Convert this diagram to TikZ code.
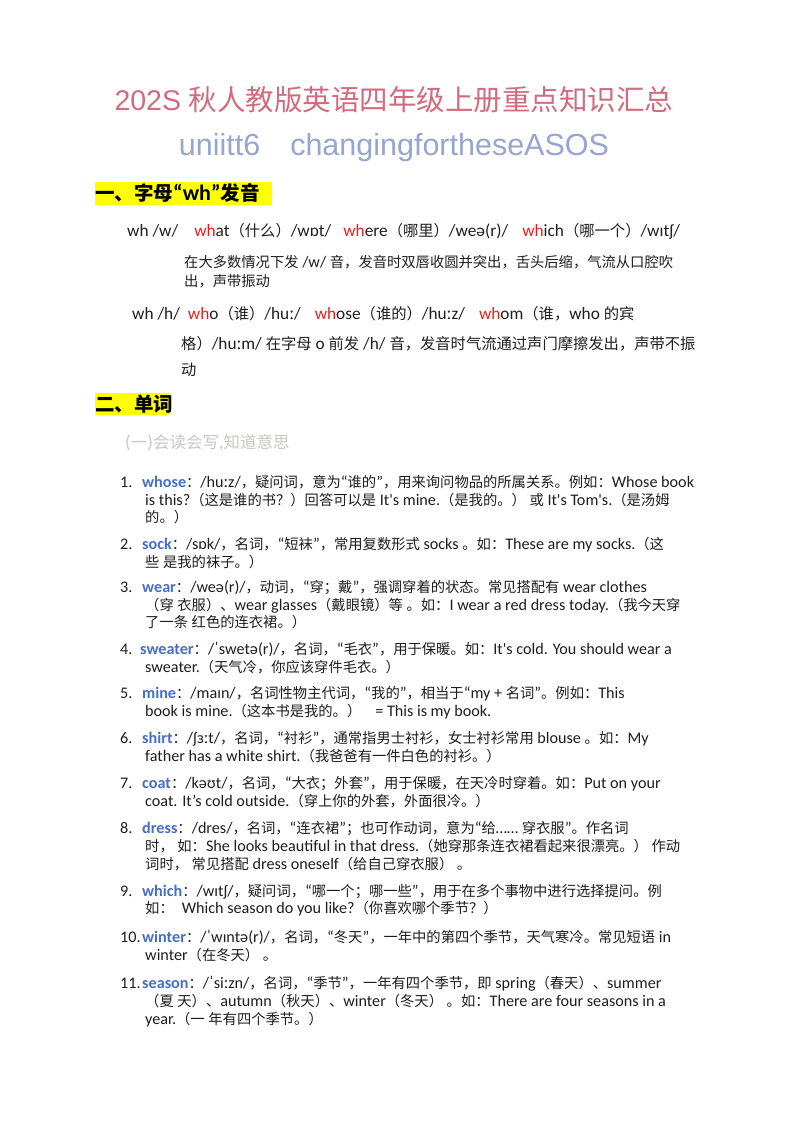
\documentclass[tikz,border=0pt]{standalone}
\usepackage{fontspec}
\setmainfont[Scale=1.13]{Carlito}
\newfontfamily\cjkf{Noto Sans CJK SC}
\newfontfamily\arialf{Liberation Sans}
\newfontfamily\latf[Scale=1.13]{Carlito}
\def\latinfont{\latf}
\XeTeXinterchartokenstate=1
\newXeTeXintercharclass\CJKcls
\count255="3000 \loop\XeTeXcharclass\count255=\CJKcls\advance\count255 by 1 \ifnum\count255<"3040 \repeat
\count255="4E00 \loop\XeTeXcharclass\count255=\CJKcls\advance\count255 by 1 \ifnum\count255<"A000 \repeat
\count255="FF00 \loop\XeTeXcharclass\count255=\CJKcls\advance\count255 by 1 \ifnum\count255<"FFF0 \repeat
\XeTeXinterchartoks 0 \CJKcls = {\cjkf}
\XeTeXinterchartoks 4095 \CJKcls = {\cjkf}
\XeTeXinterchartoks \CJKcls 0 = {\latinfont}
\XeTeXinterchartoks \CJKcls 4095 = {\latinfont}
\definecolor{titlec}{RGB}{212,106,125}
\definecolor{subc}{RGB}{150,166,208}
\definecolor{kw}{RGB}{70,110,200}
\definecolor{redw}{RGB}{235,30,30}
\definecolor{hl}{RGB}{255,255,0}
\definecolor{grayt}{RGB}{205,198,198}
\definecolor{txt}{RGB}{30,30,30}
\newcommand\R[1]{{\color{redw}#1}}
\newcommand\K[1]{{\color{kw}\bfseries #1}}
\tikzset{
 ln/.style={anchor=base west,inner sep=0,text=txt,font=\fontsize{14.3}{16}\selectfont},
 wl/.style={anchor=base west,inner sep=0,text=txt,font=\fontsize{15.3}{18}\selectfont},
 num/.style={anchor=base west,inner sep=0,text=txt,font=\fontsize{14.3}{16}\selectfont},
 head/.style={anchor=base west,inner sep=0,text=black,font=\fontsize{19.5}{20}\selectfont\bfseries},
}
\begin{document}
\begin{tikzpicture}[x=1pt,y=-1pt]
\useasboundingbox (0,0) rectangle (800,1132);
\fill[white] (0,0) rectangle (800,1132);
\node[inner sep=0,text=titlec,font=\fontsize{28.5}{30}\selectfont\def\latinfont{\arialf}\arialf] (title) at (394,100) {202S 秋人教版英语四年级上册重点知识汇总};
\node[inner sep=0,text=subc,font=\fontsize{30.5}{32}\selectfont\arialf] (sub) at (394,148) {uniitt6\hspace{30pt}changingfortheseASOS};
\fill[hl] (95,182) rectangle (272,205);
\node[head] (h1) at (95,200) {一、字母“wh”发音};
\node[wl] (w1) at (127,236) {wh /w/\hspace{16pt}\R{wh}at（什么）/wɒt/\hspace{12pt}\R{wh}ere（哪里）/weə(r)/\hspace{14pt}\R{wh}ich（哪一个）/wɪtʃ/};
\node[ln] (p1a) at (184,267) {在大多数情况下发 /w/ 音，发音时双唇收圆并突出，舌头后缩，气流从口腔吹};
\node[ln] (p1b) at (184,286) {出，声带振动};
\node[wl] (w2) at (132,319) {wh /h/\hspace{8pt}\R{wh}o（谁）/huː/\hspace{14pt}\R{wh}ose（谁的）/huːz/\hspace{14pt}\R{wh}om（谁，who 的宾};
\node[wl] (p2a) at (181,349) {格）/huːm/ 在字母 o 前发 /h/ 音，发音时气流通过声门摩擦发出，声带不振};
\node[wl] (p2b) at (181,375) {动};
\fill[hl] (95,393) rectangle (170,415);
\node[head] (h2) at (95,411) {二、单词};
\node[anchor=base west,inner sep=0,text=grayt,font=\fontsize{16.5}{18}\selectfont] (sub2) at (125,448) {(一)会读会写,知道意思};
% items
\node[num] (n1) at (120,487) {1.};
\node[ln] (i1a) at (142,487) {\K{whose}：/huːz/，疑问词，意为“谁的”，用来询问物品的所属关系。例如：Whose book};
\node[ln] (i1b) at (145,505) {is this?（这是谁的书？）回答可以是 It's mine.（是我的。） 或 It's Tom's.（是汤姆};
\node[ln] (i1c) at (145,522) {的。）};
\node[num] (n2) at (120,549) {2.};
\node[ln] (i2a) at (142,549) {\K{sock}：/sɒk/，名词，“短袜”，常用复数形式 socks 。如：These are my socks.（这};
\node[ln] (i2b) at (145,567) {些 是我的袜子。）};
\node[num] (n3) at (120,592) {3.};
\node[ln] (i3a) at (142,592) {\K{wear}：/weə(r)/，动词，“穿；戴”，强调穿着的状态。常见搭配有 wear clothes};
\node[ln] (i3b) at (145,610) {（穿 衣服）、wear glasses（戴眼镜）等 。如：I wear a red dress today.（我今天穿};
\node[ln] (i3c) at (145,627) {了一条 红色的连衣裙。）};
\node[num] (n4) at (120,654) {4.};
\node[ln] (i4a) at (140,654) {\K{sweater}：/ˈswetə(r)/，名词，“毛衣”，用于保暖。如：It's cold. You should wear a};
\node[ln] (i4b) at (145,672) {sweater.（天气冷，你应该穿件毛衣。）};
\node[num] (n5) at (120,698) {5.};
\node[ln] (i5a) at (142,698) {\K{mine}：/maɪn/，名词性物主代词，“我的”，相当于“my + 名词”。例如：This};
\node[ln] (i5b) at (145,716) {book is mine.（这本书是我的。）\hspace{14pt}= This is my book.};
\node[num] (n6) at (120,743) {6.};
\node[ln] (i6a) at (142,743) {\K{shirt}：/ʃɜːt/，名词，“衬衫”，通常指男士衬衫，女士衬衫常用 blouse 。如：My};
\node[ln] (i6b) at (145,761) {father has a white shirt.（我爸爸有一件白色的衬衫。）};
\node[num] (n7) at (120,788) {7.};
\node[ln] (i7a) at (142,788) {\K{coat}：/kəʊt/，名词，“大衣；外套”，用于保暖，在天冷时穿着。如：Put on your};
\node[ln] (i7b) at (145,806) {coat. It's cold outside.（穿上你的外套，外面很冷。）};
\node[num] (n8) at (120,833) {8.};
\node[ln] (i8a) at (142,833) {\K{dress}：/dres/，名词，“连衣裙”；也可作动词，意为“给…… 穿衣服”。作名词};
\node[ln] (i8b) at (145,851) {时， 如：She looks beautiful in that dress.（她穿那条连衣裙看起来很漂亮。） 作动};
\node[ln] (i8c) at (145,869) {词时， 常见搭配 dress oneself（给自己穿衣服） 。};
\node[num] (n9) at (120,896) {9.};
\node[ln] (i9a) at (142,896) {\K{which}：/wɪtʃ/，疑问词，“哪一个；哪一些”，用于在多个事物中进行选择提问。例};
\node[ln] (i9b) at (145,913) {如：\hspace{8pt}Which season do you like?（你喜欢哪个季节？）};
\node[num] (n10) at (120,942) {10.};
\node[ln] (i10a) at (142,942) {\K{winter}：/ˈwɪntə(r)/，名词，“冬天”，一年中的第四个季节，天气寒冷。常见短语 in};
\node[ln] (i10b) at (145,960) {winter（在冬天） 。};
\node[num] (n11) at (120,988) {11.};
\node[ln] (i11a) at (142,988) {\K{season}：/ˈsiːzn/，名词，“季节”，一年有四个季节，即 spring（春天）、summer};
\node[ln] (i11b) at (145,1006) {（夏 天）、autumn（秋天）、winter（冬天） 。如：There are four seasons in a};
\node[ln] (i11c) at (145,1024) {year.（一 年有四个季节。）};
\end{tikzpicture}
\end{document}
